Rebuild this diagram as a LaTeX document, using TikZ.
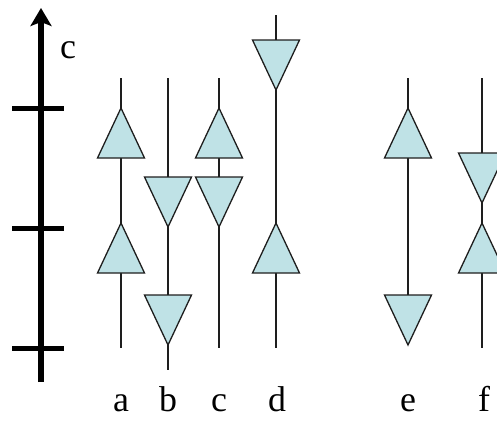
\documentclass[tikz,border=0pt]{standalone}
\usepackage{fontspec}
\setmainfont{Liberation Serif}
\usepackage{tikz}
\usetikzlibrary{arrows.meta,calc,positioning}
\definecolor{triblue}{RGB}{191,226,230}
\definecolor{lineblack}{RGB}{30,30,30}

\begin{document}
\begin{tikzpicture}[x=1bp,y=-1bp,semithick]
\tikzstyle{wline}=[draw=lineblack,line width=1.3bp]
\tikzstyle{tri}=[fill=triblue,draw=lineblack,line width=1.3bp,line join=miter]
\tikzstyle{tick}=[line width=5bp]
\tikzstyle{lbl}=[anchor=base,inner sep=0pt,text depth=0pt,font=\fontsize{36}{40}\selectfont]
\tikzset{
  pics/tup/.style={code={\path[tri] (0,0) -- (-23.5,50) -- (23.5,50) -- cycle;}},
  pics/tdown/.style={code={\path[tri] (0,50) -- (-23.5,0) -- (23.5,0) -- cycle;}}
}
\useasboundingbox (0,0) rectangle (497,421);
\clip (0,0) rectangle (497,421);

% axis c
\coordinate (axbot) at (41,382);
\coordinate (axtop) at (41,8);
\draw[line width=5.5bp,-{Stealth[length=18bp,width=21bp,inset=4bp]}] (axbot) -- (axtop);
\node[lbl] (clbl) at (68,58) {c};
\foreach \ty [count=\i] in {108,228,348}
  \draw[tick] (12,\ty) coordinate (tl\i) -- (64,\ty) coordinate (tr\i);

% world lines
\coordinate (atop) at (121,78);  \coordinate (abot) at (121,348);
\coordinate (btop) at (168,78);  \coordinate (bbot) at (168,370);
\coordinate (ctop) at (219,78);  \coordinate (cbot) at (219,348);
\coordinate (dtop) at (276,15);  \coordinate (dbot) at (276,348);
\coordinate (etop) at (408,78);  \coordinate (ebot) at (408,295);
\coordinate (ftop) at (482,78);  \coordinate (fbot) at (482,348);
\foreach \w in {a,b,c,d,e,f}
  \draw[wline] (\w top) -- (\w bot);

% triangles
\pic (a1) at (121,108) {tup};
\pic (a2) at (121,223) {tup};
\pic (b1) at (168,177) {tdown};
\pic (b2) at (168,295) {tdown};
\pic (c1) at (219,108) {tup};
\pic (c2) at (219,177) {tdown};
\pic (d1) at (276,40) {tdown};
\pic (d2) at (276,223) {tup};
\pic (e1) at (408,108) {tup};
\pic (e2) at (408,295) {tdown};
\pic (f1) at (482,153) {tdown};
\pic (f2) at (482,223) {tup};

% labels
\node[lbl] (la) at (121,411) {a};
\node[lbl] (lb) at (168,411) {b};
\node[lbl] (lc) at (219,411) {c};
\node[lbl] (ld) at (277,411) {d};
\node[lbl] (le) at (408,411) {e};
\node[lbl] (lf) at (484,411) {f};

\end{tikzpicture}
\end{document}
